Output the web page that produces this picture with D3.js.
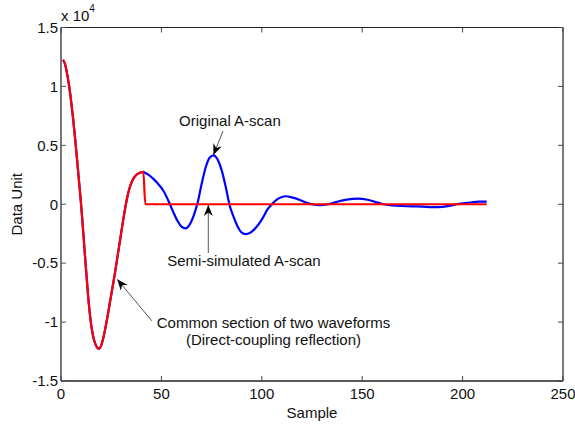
<!DOCTYPE html>
<html>
<head>
<meta charset="utf-8">
<script src="https://cdn.jsdelivr.net/npm/d3@7"></script>
<style>
  html, body { margin: 0; padding: 0; background: #fff; }
  svg { display: block; }
  text { font-family: "Liberation Sans", Arial, sans-serif; fill: #111; }
</style>
</head>
<body>
<svg id="chart" width="575" height="425"></svg>
<script>
// Amplitude values are in units of 10^4.
// Direct-coupling reflection, shared by both waveforms (samples 1..41)
const commonValues = [
  1.225, 1.19, 1.11, 1.01, 0.88, 0.73, 0.56, 0.38, 0.19, 0.0,
  -0.22, -0.45, -0.67, -0.87, -1.02, -1.12, -1.18, -1.215, -1.225, -1.2,
  -1.14, -1.06, -0.97, -0.87, -0.77, -0.67, -0.57, -0.46, -0.35, -0.24,
  -0.13, -0.03, 0.06, 0.13, 0.18, 0.215, 0.24, 0.255, 0.265, 0.272,
  0.275
];

// Remaining part of the original A-scan
const originalTailSamples = [
  42, 44, 46, 48, 51, 54, 56, 58, 60, 62, 64, 66, 68, 70, 72, 74, 76, 78, 80,
  82, 84, 86, 88, 90, 92, 94, 97, 100, 103, 105, 108, 110, 112, 115, 119, 122,
  125, 129, 133, 137, 141, 145, 148, 152, 156, 160, 165, 170, 175, 180, 185,
  190, 194, 197, 200, 204, 208, 212
];
const originalTailValues = [
  0.265, 0.245, 0.215, 0.18, 0.115, 0.01, -0.07, -0.14, -0.19, -0.205, -0.175,
  -0.1, 0.01, 0.17, 0.31, 0.395, 0.415, 0.38, 0.29, 0.15, -0.01, -0.11, -0.19,
  -0.24, -0.253, -0.245, -0.2, -0.13, -0.04, 0.0, 0.045, 0.062, 0.068, 0.058,
  0.036, 0.015, 0.0, -0.008, 0.0, 0.018, 0.035, 0.045, 0.047, 0.04, 0.022,
  0.002, -0.01, -0.015, -0.018, -0.02, -0.025, -0.022, -0.012, 0.0, 0.008,
  0.015, 0.022, 0.022
];

// Semi-simulated A-scan: zero after the direct-coupling reflection
const simulatedTailSamples = [42, 212];
const simulatedTailValues = [0, 0];

const xTicks = [0, 50, 100, 150, 200, 250];
const yTicks = [-1.5, -1, -0.5, 0, 0.5, 1, 1.5];
const yTickLabels = ["-1.5", "-1", "-0.5", "0", "0.5", "1", "1.5"];

// Annotations: [label lines], text anchor point, arrow tail, arrow tip (data coords)
const annotations = [
  { lines: ["Original A-scan"], anchor: "start", text: [58.8, 0.667],
    tail: [80.7, 0.622], tip: [75.9, 0.418] },
  { lines: ["Semi-simulated A-scan"], anchor: "start", text: [52.9, -0.522],
    tail: [73.35, -0.414], tip: [73.35, -0.006] },
  { lines: ["Common section of two waveforms", "(Direct-coupling reflection)"],
    anchor: "middle", text: [105.8, -1.053],
    tail: [45.2, -0.989], tip: [28.0, -0.637] }
];

const svg = d3.select("#chart");
const W = 575, H = 425;
const m = { left: 61, top: 27.5, right: 12, bottom: 44 };
const x = d3.scaleLinear().domain([0, 250]).range([m.left, W - m.right]);
const y = d3.scaleLinear().domain([-1.5, 1.5]).range([H - m.bottom, m.top]);

const commonPts = commonValues.map((v, i) => [i + 1, v]);
const originalPts = commonPts.concat(originalTailSamples.map((s, i) => [s, originalTailValues[i]]));
const simulatedPts = commonPts.concat(simulatedTailSamples.map((s, i) => [s, simulatedTailValues[i]]));

const line = d3.line().x(d => x(d[0])).y(d => y(d[1])).curve(d3.curveMonotoneX);

// Waveforms
svg.append("path").attr("d", line(originalPts))
  .attr("fill", "none").attr("stroke", "#0000ff").attr("stroke-width", 2.2)
  .attr("stroke-linejoin", "round");
svg.append("path").attr("d", line(simulatedPts))
  .attr("fill", "none").attr("stroke", "#ff0000").attr("stroke-width", 2.2)
  .attr("stroke-linejoin", "round");

// Axes frame and inward ticks
const x0 = x(0), x1 = x(250), yT = y(1.5), yB = y(-1.5);
const tickLen = 5;
const frame = svg.append("g");
frame.append("line").attr("x1", x0).attr("x2", x1).attr("y1", yT).attr("y2", yT)
  .attr("stroke", "#222").attr("stroke-width", 1.2);
frame.append("line").attr("x1", x0).attr("x2", x1).attr("y1", yB).attr("y2", yB)
  .attr("stroke", "#222").attr("stroke-width", 1.4);
frame.append("line").attr("x1", x1).attr("x2", x1).attr("y1", yT).attr("y2", yB)
  .attr("stroke", "#333").attr("stroke-width", 1.3);
frame.append("line").attr("x1", x0).attr("x2", x0).attr("y1", yT).attr("y2", yB)
  .attr("stroke", "#777").attr("stroke-width", 2);

xTicks.forEach(t => {
  frame.append("line").attr("x1", x(t)).attr("x2", x(t)).attr("y1", yB).attr("y2", yB - tickLen)
    .attr("stroke", "#444").attr("stroke-width", 1);
  frame.append("line").attr("x1", x(t)).attr("x2", x(t)).attr("y1", yT).attr("y2", yT + tickLen)
    .attr("stroke", "#444").attr("stroke-width", 1);
  svg.append("text").attr("x", x(t)).attr("y", yB + 18).attr("text-anchor", "middle")
    .attr("font-size", 15).text(t);
});
yTicks.forEach((t, i) => {
  frame.append("line").attr("x1", x0).attr("x2", x0 + tickLen).attr("y1", y(t)).attr("y2", y(t))
    .attr("stroke", "#555").attr("stroke-width", 1);
  frame.append("line").attr("x1", x1).attr("x2", x1 - tickLen).attr("y1", y(t)).attr("y2", y(t))
    .attr("stroke", "#444").attr("stroke-width", 1);
  svg.append("text").attr("x", x0 - 3).attr("y", y(t)).attr("dy", "0.35em")
    .attr("text-anchor", "end").attr("font-size", 15).text(yTickLabels[i]);
});

// Exponent label
const expo = svg.append("text").attr("x", x0).attr("y", 20.5).attr("font-size", 15);
expo.append("tspan").text("x 10");
expo.append("tspan").attr("dy", -9).attr("font-size", 10).text("4");

// Axis titles
svg.append("text").attr("x", (x0 + x1) / 2).attr("y", 418).attr("text-anchor", "middle")
  .attr("font-size", 15).text("Sample");
svg.append("text").attr("transform", `translate(21.5,${(yT + yB) / 2}) rotate(-90)`)
  .attr("text-anchor", "middle").attr("font-size", 15).text("Data Unit");

// Annotations with arrows
function arrowHead(tip, tail) {
  const ang = Math.atan2(tip[1] - tail[1], tip[0] - tail[0]);
  const L = 11, Wd = 4.5, notch = 7.5;
  const ux = Math.cos(ang), uy = Math.sin(ang);
  const px = -uy, py = ux;
  const bx = tip[0] - ux * L, by = tip[1] - uy * L;
  const nx = tip[0] - ux * notch, ny = tip[1] - uy * notch;
  return `M${tip[0]},${tip[1]} L${bx + px * Wd},${by + py * Wd} L${nx},${ny} L${bx - px * Wd},${by - py * Wd} Z`;
}

annotations.forEach(a => {
  const tail = [x(a.tail[0]), y(a.tail[1])];
  const tip = [x(a.tip[0]), y(a.tip[1])];
  svg.append("line").attr("x1", tail[0]).attr("y1", tail[1]).attr("x2", tip[0]).attr("y2", tip[1])
    .attr("stroke", "#555").attr("stroke-width", 1);
  svg.append("path").attr("d", arrowHead(tip, tail)).attr("fill", "#000");
  const t = svg.append("text").attr("x", x(a.text[0])).attr("y", y(a.text[1]))
    .attr("text-anchor", a.anchor).attr("font-size", 15);
  a.lines.forEach((ln, i) => {
    t.append("tspan").attr("x", x(a.text[0])).attr("dy", i === 0 ? 0 : 16.7).text(ln);
  });
});
</script>
</body>
</html>
